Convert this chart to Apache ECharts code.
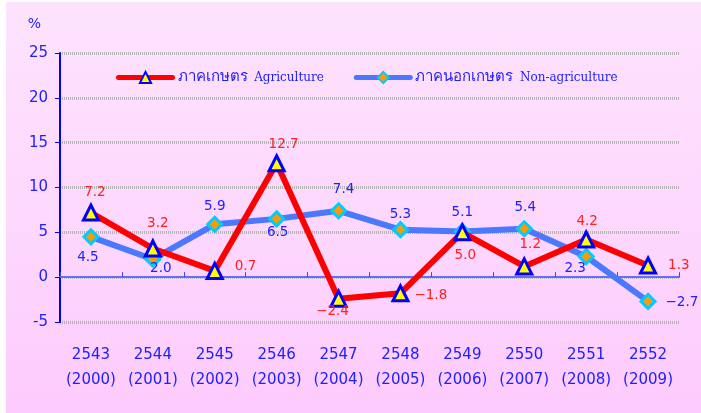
<!DOCTYPE html>
<html>
<head>
<meta charset="utf-8">
<script src="https://cdn.jsdelivr.net/npm/echarts@6/dist/echarts.min.js"></script>
<style>
  html, body { margin: 0; padding: 0; background: #ffffff; }
  #chart {
    position: absolute; left: 6px; top: 2px; width: 695px; height: 411px;
    background: linear-gradient(to bottom, #fde3fd 0%, #fdd6fd 60%, #fdcbfd 100%);
  }
</style>
</head>
<body>
<div id="chart"></div>
<script>
// data
const yearsBE = ['2543', '2544', '2545', '2546', '2547', '2548', '2549', '2550', '2551', '2552'];
const yearsAD = ['2000', '2001', '2002', '2003', '2004', '2005', '2006', '2007', '2008', '2009'];
const agriculture = [7.2, 3.2, 0.7, 12.7, -2.4, -1.8, 5.0, 1.2, 4.2, 1.3];
const nonAgriculture = [4.5, 2.0, 5.9, 6.5, 7.4, 5.3, 5.1, 5.4, 2.3, -2.7];
const agriName = 'ภาคเกษตร  Agriculture';
const nonAgriName = 'ภาคนอกเกษตร  Non-agriculture';

// label placement for each point: [position, dx, dy]
const agriLabelPos = [
  ['top', 4, -1], ['top', 5, -6], ['right', 0, -4], ['top', 7, 0], ['bottom', -6, -3],
  ['right', -6, 2], ['bottom', 3, 7], ['top', 6, -3], ['top', 1, 1], ['right', 0, 0]
];
const nonAgriLabelPos = [
  ['bottom', -3, 5], ['bottom', 8, -6], ['top', 0, 1], ['bottom', 1, -2], ['top', 5, -3],
  ['top', 0, 3], ['top', 0, 0], ['top', 1, -3], ['bottom', -11, -4], ['right', -2, 1]
];

const categories = yearsBE.map((y, i) => y + '\n(' + yearsAD[i] + ')');
const font = 'DejaVu Sans';

function withLabels(values, layout) {
  return values.map((v, i) => ({
    value: v,
    label: {
      position: layout[i][0],
      distance: layout[i][0] === 'right' ? 11 : (layout[i][0] === 'top' ? 3 : 0),
      offset: [layout[i][1], layout[i][2]]
    }
  }));
}

let myChart = echarts.init(document.getElementById('chart'));

const option = {
  animation: false,
  grid: { left: 54, right: 22, top: 51, bottom: 91 },
  legend: {
    left: 105, top: 63,
    itemWidth: 54, itemHeight: 14, itemGap: 30,
    lineStyle: { width: 5, cap: 'round' },
    data: [agriName, nonAgriName],
    formatter: function (name) {
      const parts = name.split('  ');
      return '{th|' + parts[0] + '}  {en|' + parts[1] + '}';
    },
    textStyle: {
      rich: {
        th: { fontFamily: font, fontSize: 15, color: '#2020ff' },
        en: { fontFamily: 'DejaVu Serif', fontSize: 12, color: '#2020ff' }
      }
    }
  },
  xAxis: [
    {
      type: 'category',
      data: categories,
      position: 'bottom',
      axisLine: { show: false, onZero: false },
      axisTick: { show: false },
      axisLabel: {
        interval: 0,
        color: '#2020ff', fontFamily: font, fontSize: 15,
        lineHeight: 25, margin: 21
      }
    },
    {
      type: 'category',
      data: categories,
      position: 'bottom',
      axisLine: { show: true, onZero: true, lineStyle: { color: '#6a6aff', width: 2 } },
      axisTick: { show: true, inside: true, interval: 0, length: 5, lineStyle: { color: '#4040ff' } },
      axisLabel: { show: false }
    }
  ],
  yAxis: {
    type: 'value',
    min: -5, max: 25, interval: 5,
    name: '%',
    nameLocation: 'end',
    nameGap: 22,
    nameTextStyle: { color: '#2020ff', fontFamily: font, fontSize: 14, align: 'right', padding: [0, 19, 0, 0] },
    axisLine: { show: true, lineStyle: { color: '#0000ff', width: 2 } },
    axisTick: { show: true, length: 5, lineStyle: { color: '#0000ff' } },
    axisLabel: { color: '#2020ff', fontFamily: font, fontSize: 15, margin: 12 },
    splitLine: { lineStyle: { color: '#b4b4b4', width: 3, type: [1, 1] } }
  },
  series: [
    {
      name: nonAgriName,
      type: 'line',
      xAxisIndex: 0,
      data: withLabels(nonAgriculture, nonAgriLabelPos),
      symbol: 'diamond',
      symbolSize: 14,
      lineStyle: { color: '#4a78ff', width: 6 },
      itemStyle: { color: '#ff9900', borderColor: '#00ccff', borderWidth: 3 },
      label: {
        show: true, color: '#2020ff', fontFamily: font, fontSize: 13.5,
        formatter: p => p.value.toFixed(1).replace('-', '−')
      },
      z: 2
    },
    {
      name: agriName,
      type: 'line',
      xAxisIndex: 0,
      data: withLabels(agriculture, agriLabelPos),
      symbol: 'triangle',
      symbolSize: 15,
      lineStyle: { color: '#ff0000', width: 6 },
      itemStyle: { color: '#ffff00', borderColor: '#0000ff', borderWidth: 3 },
      label: {
        show: true, color: '#ff2020', fontFamily: font, fontSize: 13.5,
        formatter: p => p.value.toFixed(1).replace('-', '−')
      },
      z: 3
    }
  ]
};

myChart.setOption(option);
</script>
</body>
</html>
